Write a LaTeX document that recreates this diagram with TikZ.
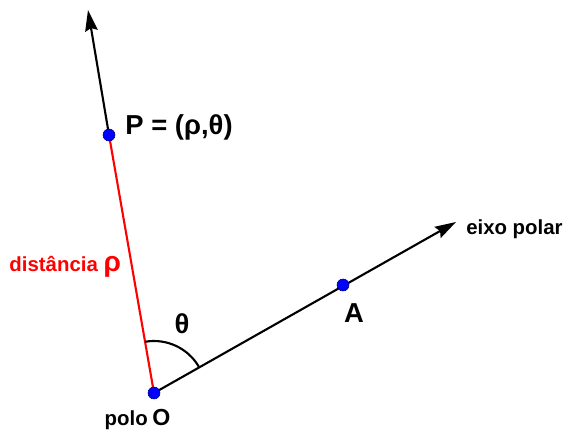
\documentclass[tikz,border=0pt]{standalone}
\usepackage{fontspec}
\setmainfont{Liberation Sans}
\usetikzlibrary{arrows.meta,positioning}

\begin{document}
\begin{tikzpicture}[
  dot/.style={circle, fill=blue, draw=blue!50!black, line width=0.4pt, inner sep=0pt, minimum size=0.3cm},
  big/.style={font=\bfseries\fontsize{19.5}{21}\selectfont, inner sep=0pt},
  small/.style={font=\bfseries\fontsize{14.5}{16}\selectfont, inner sep=0pt},
  ax/.style={line width=1.5pt},
  arr/.style={ax, -{Stealth[length=15pt,width=9pt,inset=2pt]}}
]
\useasboundingbox (-3.85,-0.975) rectangle (10.3,9.825);
\coordinate (O) at (0,0);
\coordinate (P) at (-1.125,6.45);
\coordinate (A) at (4.725,2.7);
\coordinate (top) at (-1.65,9.575);
\coordinate (tip) at (7.55,4.275);

\draw[ax, red] (O) -- (P);
\draw[arr] (P) -- (top);
\draw[arr] (O) -- (tip);
\draw[ax] ([shift={(99.9:1.3)}]O) arc[start angle=99.9, end angle=29.7, radius=1.3];

\node[dot] (dO) at (O) {};
\node[dot] (dP) at (P) {};
\node[dot] (dA) at (A) {};

\node[big, anchor=base west] (lP) at (-0.72,6.45) {P = (ρ,θ)};
\node[big] (lth) at (0.7,1.74) {θ};
\node[big] (lA) at (5.0,2.0) {A};
\node[small, anchor=base west] (lax) at (7.8,3.95) {eixo polar};
\node[small, red, anchor=base west] (ld) at (-3.62,3.025) {distância \fontsize{20}{22}\selectfont ρ};
\node[small, anchor=base east] (lpolo) at (-0.15,-0.8) {polo};
\node[anchor=base west, inner sep=0pt, font=\bfseries\fontsize{16.5}{18}\selectfont] (lO) at (-0.05,-0.82) {O};
\end{tikzpicture}
\end{document}
